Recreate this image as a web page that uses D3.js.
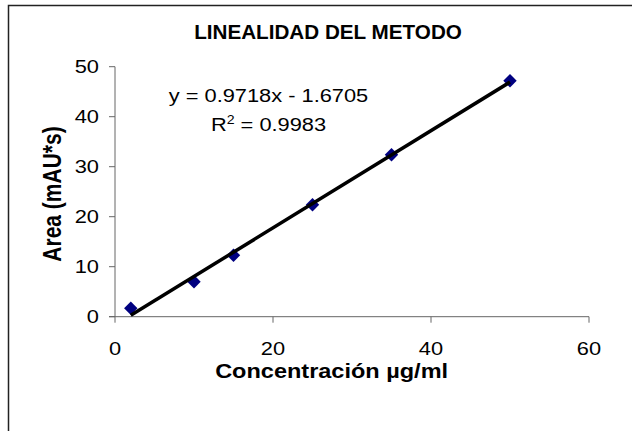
<!DOCTYPE html>
<html>
<head>
<meta charset="utf-8">
<script src="https://d3js.org/d3.v7.min.js"></script>
<style>
  body { margin: 0; background: #fff; }
  svg { display: block; font-family: "Liberation Sans", Arial, sans-serif; }
</style>
</head>
<body>
<div id="chart"></div>
<script>
(function() {

// data
var concentracion = [2, 10, 15, 25, 35, 50];
var area = [1.7, 7.0, 12.3, 22.4, 32.4, 47.2];
var xTicks = [0, 20, 40, 60];
var yTicks = [0, 10, 20, 30, 40, 50];
var pendiente = 0.9718, intercepto = -1.6705, r2 = 0.9983;

var W = 632, H = 431;
var margin = {top: 66.7, right: 43, bottom: 114.3, left: 115},
    width = W - margin.left - margin.right,
    height = H - margin.top - margin.bottom;

var x = d3.scaleLinear().domain([0, 60]).range([0, width]);
var y = d3.scaleLinear().domain([0, 50]).range([height, 0]);

var svg = d3.select("#chart").append("svg")
    .attr("width", W)
    .attr("height", H)
    .style("overflow", "hidden");

// outer frame (right and bottom edges fall outside the picture)
svg.append("rect")
    .attr("x", 8.5).attr("y", 5.5)
    .attr("width", W).attr("height", H)
    .style("fill", "none")
    .style("stroke", "#222")
    .style("stroke-width", 1.5);

// text in the original is a bit wider than the font, so stretch it horizontally
function label(g, tx, ty, txt, sx, rot) {
  return g.append("text")
    .attr("transform", "translate(" + tx + "," + ty + ") scale(" + sx + ",1)" + (rot ? " rotate(" + rot + ")" : ""))
    .text(txt);
}

var tickFont = "18.5px", tickStretch = 1.18;

label(svg, 328, 39, "LINEALIDAD DEL METODO", 1.06)
    .attr("text-anchor", "middle")
    .style("font-weight", "bold")
    .style("font-size", "19.5px");

var g = svg.append("g")
    .attr("transform", "translate(" + margin.left + "," + margin.top + ")");

// axes
var xAxis = g.append("g").attr("transform", "translate(0," + height + ")");
xAxis.append("line")
    .attr("x1", -6).attr("x2", x(60))
    .style("stroke", "#666").style("stroke-width", 1);
xAxis.selectAll(".tick")
    .data(xTicks)
  .enter().append("line")
    .attr("x1", function(d) { return x(d); })
    .attr("x2", function(d) { return x(d); })
    .attr("y1", 0).attr("y2", 6)
    .style("stroke", "#666");
xAxis.selectAll(".lbl")
    .data(xTicks)
  .enter().each(function(d) {
    label(xAxis, x(d), 38.3, d, tickStretch)
      .attr("text-anchor", "middle")
      .style("font-size", tickFont);
  });

var yAxis = g.append("g");
yAxis.append("line")
    .attr("y1", 0).attr("y2", height)
    .style("stroke", "#666").style("stroke-width", 1);
yAxis.selectAll(".tick")
    .data(yTicks)
  .enter().append("line")
    .attr("x1", -6).attr("x2", 0)
    .attr("y1", function(d) { return y(d); })
    .attr("y2", function(d) { return y(d); })
    .style("stroke", "#666");
yAxis.selectAll(".lbl")
    .data(yTicks)
  .enter().each(function(d) {
    label(yAxis, -16, y(d) + 6.5, d, tickStretch)
      .attr("text-anchor", "end")
      .style("font-size", tickFont);
  });

// axis titles
label(svg, 331.6, 378, "Concentración µg/ml", 1.12)
    .attr("text-anchor", "middle")
    .style("font-weight", "bold")
    .style("font-size", "21px");

label(svg, 60.5, 194, "Area (mAU*s)", 1.2, -90)
    .attr("text-anchor", "middle")
    .style("font-weight", "bold")
    .style("font-size", "21px");

// points
g.selectAll(".dot")
    .data(concentracion)
  .enter().append("path")
    .attr("class", "dot")
    .attr("d", d3.symbol().type(d3.symbolSquare).size(90))
    .attr("transform", function(d, i) { return "translate(" + x(d) + "," + y(area[i]) + ") rotate(45)"; })
    .style("fill", "#000080");

// linear trend line over the data range
var xr = d3.extent(concentracion);
g.append("line")
    .attr("x1", x(xr[0])).attr("y1", y(pendiente * xr[0] + intercepto))
    .attr("x2", x(xr[1])).attr("y2", y(pendiente * xr[1] + intercepto))
    .style("stroke", "black")
    .style("stroke-width", 3.5);

// equation
label(svg, 268.5, 101.5, "y = " + pendiente + "x - " + Math.abs(intercepto), tickStretch)
    .attr("text-anchor", "middle")
    .style("font-size", tickFont);

var eq2 = label(svg, 268.5, 131, "", tickStretch)
    .attr("text-anchor", "middle")
    .style("font-size", tickFont);
eq2.append("tspan").text("R");
eq2.append("tspan").text("2").attr("dy", -7).style("font-size", "12px");
eq2.append("tspan").text(" = " + r2).attr("dy", 7);

})()
</script>
</body>
</html>
